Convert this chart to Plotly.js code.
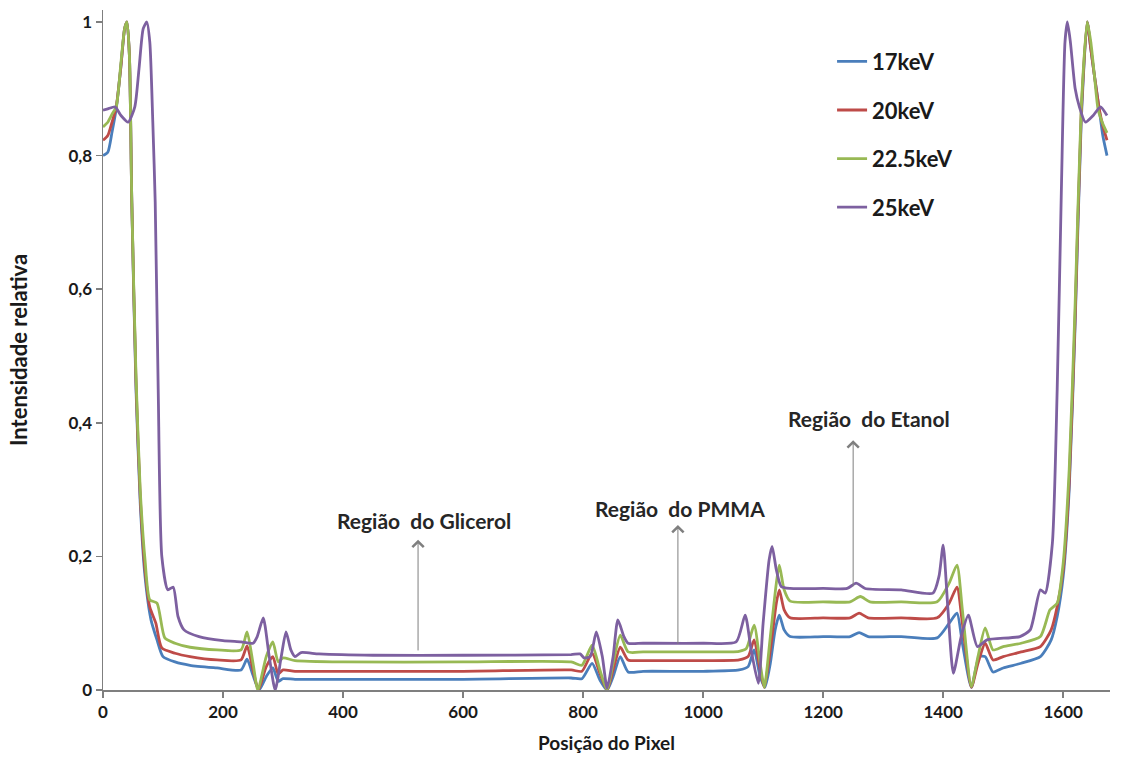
<!DOCTYPE html>
<html>
<head>
<meta charset="utf-8">
<script src="https://cdn.plot.ly/plotly-3.0.1.min.js"></script>
<style>html,body{margin:0;padding:0;background:#fff;}#chart{width:1123px;height:760px;}</style>
</head>
<body>
<div id="chart"></div>
<script>
// Series names
const seriesNames = ["17keV", "20keV", "22.5keV", "25keV"];

// 17keV
const x17 = [0, 8, 15, 22, 30, 36, 40, 44, 48, 55, 62, 70, 80, 90, 100, 120, 145, 190, 230, 240, 250, 260, 272, 283, 292, 300, 320, 400, 600, 780, 798, 815, 828, 840, 850, 862, 875, 900, 1000, 1060, 1075, 1085, 1095, 1103, 1112, 1120, 1127, 1135, 1145, 1200, 1245, 1260, 1275, 1330, 1390, 1410, 1423, 1432, 1447, 1460, 1470, 1483, 1500, 1530, 1562, 1580, 1590, 1600, 1610, 1620, 1630, 1640, 1646, 1652, 1660, 1666, 1673];
const y17 = [0.80, 0.805, 0.835, 0.87, 0.935, 0.99, 1.0, 0.95, 0.73, 0.45, 0.28, 0.17, 0.105, 0.075, 0.05, 0.042, 0.037, 0.033, 0.03, 0.046, 0.022, 0.0, 0.02, 0.033, 0.013, 0.017, 0.016, 0.016, 0.016, 0.018, 0.017, 0.04, 0.015, 0.0, 0.02, 0.05, 0.027, 0.028, 0.028, 0.03, 0.035, 0.06, 0.02, 0.004, 0.04, 0.09, 0.112, 0.09, 0.08, 0.08, 0.08, 0.086, 0.08, 0.08, 0.078, 0.1, 0.115, 0.07, 0.004, 0.05, 0.05, 0.027, 0.033, 0.04, 0.05, 0.075, 0.11, 0.17, 0.3, 0.55, 0.85, 1.0, 0.96, 0.92, 0.87, 0.83, 0.80];

// 20keV
const x20 = [0, 8, 15, 22, 30, 36, 40, 44, 48, 55, 62, 70, 78, 88, 98, 120, 145, 190, 230, 240, 250, 259, 272, 283, 292, 300, 320, 400, 600, 780, 798, 815, 828, 840, 850, 862, 875, 900, 1000, 1060, 1075, 1085, 1095, 1102, 1112, 1122, 1127, 1135, 1145, 1200, 1245, 1260, 1275, 1330, 1390, 1410, 1423, 1432, 1447, 1458, 1470, 1483, 1500, 1530, 1562, 1580, 1590, 1600, 1610, 1620, 1630, 1640, 1646, 1652, 1660, 1666, 1673];
const y20 = [0.823, 0.83, 0.85, 0.873, 0.935, 0.99, 1.0, 0.95, 0.73, 0.46, 0.29, 0.18, 0.124, 0.1, 0.063, 0.055, 0.05, 0.045, 0.045, 0.066, 0.03, 0.0, 0.035, 0.05, 0.024, 0.03, 0.028, 0.028, 0.028, 0.03, 0.028, 0.055, 0.025, 0.0, 0.03, 0.064, 0.045, 0.044, 0.044, 0.045, 0.05, 0.075, 0.03, 0.004, 0.06, 0.13, 0.15, 0.12, 0.108, 0.108, 0.108, 0.115, 0.108, 0.108, 0.108, 0.13, 0.154, 0.1, 0.004, 0.04, 0.07, 0.045, 0.05, 0.057, 0.065, 0.09, 0.125, 0.18, 0.31, 0.56, 0.86, 1.0, 0.96, 0.92, 0.87, 0.845, 0.823];

// 22.5keV
const x225 = [0, 8, 15, 22, 30, 36, 40, 44, 48, 55, 62, 70, 78, 90, 103, 120, 145, 190, 230, 240, 250, 258, 272, 283, 292, 300, 320, 400, 600, 780, 798, 815, 828, 840, 850, 862, 875, 900, 1000, 1060, 1072, 1085, 1095, 1102, 1112, 1122, 1127, 1135, 1145, 1200, 1245, 1262, 1278, 1330, 1390, 1410, 1423, 1432, 1447, 1458, 1470, 1483, 1500, 1530, 1562, 1578, 1590, 1600, 1610, 1620, 1630, 1640, 1646, 1652, 1658, 1665, 1673];
const y225 = [0.843, 0.85, 0.862, 0.873, 0.94, 0.99, 1.0, 0.95, 0.73, 0.47, 0.3, 0.195, 0.135, 0.13, 0.078, 0.07, 0.064, 0.06, 0.06, 0.087, 0.04, 0.0, 0.05, 0.072, 0.042, 0.048, 0.044, 0.042, 0.042, 0.042, 0.037, 0.067, 0.03, 0.0, 0.04, 0.082, 0.057, 0.057, 0.057, 0.058, 0.062, 0.097, 0.04, 0.004, 0.08, 0.16, 0.187, 0.15, 0.133, 0.132, 0.132, 0.14, 0.132, 0.132, 0.132, 0.16, 0.187, 0.12, 0.005, 0.05, 0.093, 0.06, 0.065, 0.07, 0.08, 0.12, 0.13, 0.19, 0.33, 0.58, 0.87, 1.0, 0.97, 0.92, 0.87, 0.85, 0.834];

// 25keV
const x25 = [0, 8, 20, 30, 42, 53, 60, 67, 73, 78, 83, 87, 92, 98, 108, 117, 125, 135, 160, 200, 230, 250, 257, 267, 277, 287, 297, 305, 313, 320, 330, 360, 450, 600, 780, 795, 802, 812, 822, 832, 840, 850, 858, 868, 875, 900, 1000, 1055, 1070, 1080, 1092, 1100, 1110, 1115, 1122, 1130, 1145, 1200, 1240, 1255, 1270, 1330, 1383, 1393, 1400, 1408, 1417, 1430, 1442, 1457, 1473, 1528, 1545, 1562, 1570, 1582, 1590, 1597, 1603, 1607, 1612, 1620, 1627, 1637, 1650, 1662, 1673];
const y25 = [0.868, 0.87, 0.873, 0.86, 0.85, 0.873, 0.93, 0.99, 1.0, 0.97, 0.85, 0.73, 0.45, 0.2, 0.15, 0.154, 0.11, 0.09, 0.08, 0.074, 0.072, 0.07, 0.08, 0.108, 0.05, 0.0, 0.05, 0.087, 0.06, 0.05, 0.056, 0.054, 0.052, 0.052, 0.053, 0.054, 0.048, 0.05, 0.087, 0.05, 0.003, 0.05, 0.105, 0.08, 0.07, 0.07, 0.07, 0.072, 0.112, 0.06, 0.01, 0.1, 0.195, 0.215, 0.18, 0.155, 0.152, 0.152, 0.152, 0.16, 0.152, 0.15, 0.145, 0.17, 0.217, 0.12, 0.025, 0.08, 0.112, 0.065, 0.075, 0.08, 0.09, 0.15, 0.145, 0.22, 0.45, 0.75, 0.97, 1.0, 0.97, 0.9, 0.873, 0.85, 0.86, 0.873, 0.86];

const seriesX = [x17, x20, x225, x25];
const seriesY = [y17, y20, y225, y25];
const seriesColors = ["#4a7ebb", "#be4b48", "#98b954", "#7d60a0"];

// Axis ticks
const xTickVals = [0, 200, 400, 600, 800, 1000, 1200, 1400, 1600];
const xTickText = ["0", "200", "400", "600", "800", "1000", "1200", "1400", "1600"];
const yTickVals = [0, 0.2, 0.4, 0.6, 0.8, 1];
const yTickText = ["0", "0,2", "0,4", "0,6", "0,8", "1"];

// Region labels
const regionLabels = ["Região  do Glicerol", "Região  do PMMA", "Região  do Etanol"];
const regionLabelX = [535, 962, 1277];
const regionLabelY = [0.254, 0.272, 0.407];
const arrowX = [525, 958, 1250];
const arrowTopY = [0.225, 0.247, 0.374];
const arrowBottomY = [0.057, 0.067, 0.153];

const FONT = "Lato, 'Open Sans', sans-serif";

const traces = seriesNames.map((name, i) => ({
  type: "scatter",
  mode: "lines",
  name: name,
  x: seriesX[i],
  y: seriesY[i],
  legendgroup: "g" + i,
  line: { color: seriesColors[i], width: 2.8, shape: "spline", smoothing: 0.6 }
}));

const annotations = [];
regionLabels.forEach((t, i) => {
  annotations.push({
    x: regionLabelX[i], y: regionLabelY[i], xref: "x", yref: "y",
    text: t, showarrow: false,
    font: { family: FONT, size: 21, color: "#262626", weight: "bold" }
  });
  annotations.push({
    x: arrowX[i], y: arrowTopY[i], xref: "x", yref: "y",
    ax: arrowX[i], ay: arrowBottomY[i], axref: "x", ayref: "y",
    text: "", showarrow: true, arrowhead: 4, arrowsize: 2.2, arrowwidth: 1,
    arrowcolor: "#7f7f7f", standoff: 0, startstandoff: 0
  });
});

const layout = {
  width: 1123, height: 760,
  margin: { l: 103, r: 13, t: 10, b: 70 },
  paper_bgcolor: "#ffffff",
  plot_bgcolor: "#ffffff",
  showlegend: true,
  legend: {
    x: 0.724, y: 0.955, xanchor: "left", yanchor: "top",
    font: { family: FONT, size: 22, color: "#1a1a1a", weight: "bold" },
    tracegroupgap: 17, bgcolor: "rgba(0,0,0,0)"
  },
  xaxis: {
    range: [0, 1678], showgrid: false, zeroline: false,
    showline: true, linecolor: "#7f7f7f", linewidth: 1.5,
    ticks: "outside", ticklen: 6, tickcolor: "#7f7f7f", tickwidth: 1.5,
    tickvals: xTickVals, ticktext: xTickText,
    tickfont: { family: FONT, size: 17, color: "#1a1a1a", weight: "bold" },
    title: { text: "Posição do Pixel", standoff: 16,
      font: { family: FONT, size: 19, color: "#1a1a1a", weight: "bold" } }
  },
  yaxis: {
    range: [0, 1.018], showgrid: false, zeroline: false,
    showline: true, linecolor: "#7f7f7f", linewidth: 1.5,
    ticks: "outside", ticklen: 6, tickcolor: "#7f7f7f", tickwidth: 1.5,
    tickvals: yTickVals, ticktext: yTickText,
    tickfont: { family: FONT, size: 17, color: "#1a1a1a", weight: "bold" },
    title: { text: "Intensidade relativa", standoff: 34,
      font: { family: FONT, size: 22, color: "#1a1a1a", weight: "bold" } }
  },
  annotations: annotations
};

Plotly.newPlot("chart", traces, layout, { displayModeBar: false, staticPlot: true });
</script>
</body>
</html>
